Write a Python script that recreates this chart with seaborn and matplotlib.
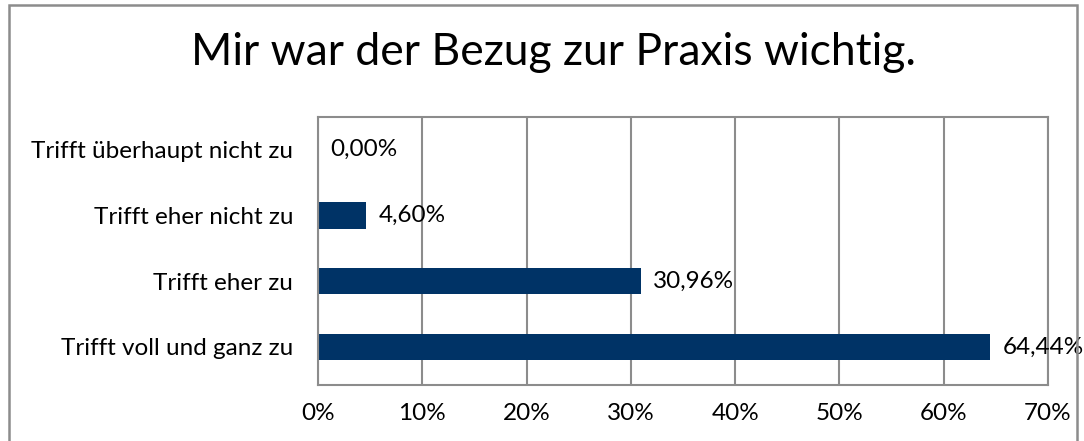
import pandas as pd
import numpy as np
import matplotlib.pyplot as plt
import seaborn as sns
from matplotlib.patches import Rectangle
from matplotlib.ticker import FuncFormatter

title = "Mir war der Bezug zur Praxis wichtig."
categories = ["Trifft überhaupt nicht zu", "Trifft eher nicht zu", "Trifft eher zu", "Trifft voll und ganz zu"]
values = [0.00, 4.60, 30.96, 64.44]
xticks = [0, 10, 20, 30, 40, 50, 60, 70]

df = pd.DataFrame({"cat": categories, "val": values})

sns.set_theme(style="white")
plt.rcParams['font.family'] = ['Lato', 'DejaVu Sans']

fig = plt.figure(figsize=(10.84, 4.41), dpi=100)
ax = fig.add_axes([0.2934, 0.127, 0.6734, 0.608])

sns.barplot(data=df, x="val", y="cat", color="#003366", saturation=1, width=0.4,
            linewidth=0, ax=ax, zorder=3)

ax.set_xlim(0, 70)
ax.set_ylim(3.58, -0.5)
ax.set_xticks(xticks)
ax.xaxis.set_major_formatter(FuncFormatter(lambda v, p: f"{int(v)}%"))
ax.grid(axis="x", color="#8c8c8c", linewidth=1.5, zorder=0)
ax.set_xlabel("")
ax.set_ylabel("")
ax.tick_params(axis="both", length=0, labelsize=17.5, colors="black")
ax.tick_params(axis="x", pad=13)
ax.tick_params(axis="y", pad=18)
for s in ax.spines.values():
    s.set_color("#8c8c8c")
    s.set_linewidth(1.5)
    s.set_zorder(4)

# data labels
for i, v in enumerate(values):
    lbl = f"{v:.2f}".replace(".", ",") + "%"
    ax.annotate(lbl, (v, i), xytext=(9, 0), textcoords="offset points",
                va="center", ha="left", fontsize=17.5, color="black",
                annotation_clip=False, zorder=5)

fig.text(0.511, 0.882, title, ha="center", va="center", fontsize=32, color="black")

# chart border
fig.patches.append(Rectangle((0.008, -0.01), 0.986, 0.999, transform=fig.transFigure,
                             fill=False, edgecolor="#8c8c8c", linewidth=1.8))

fig.savefig("out.png", dpi=100, facecolor="white")
